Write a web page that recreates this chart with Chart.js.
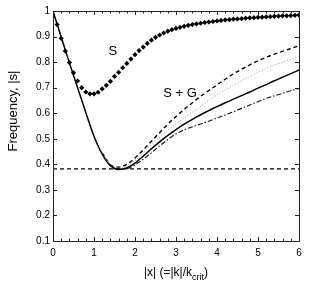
<!DOCTYPE html>
<html>
<head>
<meta charset="utf-8">
<script src="https://cdn.jsdelivr.net/npm/chart.js@4/dist/chart.umd.min.js"></script>
<style>
  html, body { margin: 0; padding: 0; background: #fff; }
  #wrap { width: 319px; height: 291px; }
</style>
</head>
<body>
<div id="wrap"><canvas id="chart" width="319" height="291"></canvas></div>
<script>
// S curve (diamonds), sampled every 0.1 in |x|
const S_X = [0, 0.1, 0.2, 0.3, 0.4, 0.5, 0.6, 0.7, 0.8, 0.9, 1.0, 1.1, 1.2, 1.3, 1.4, 1.5, 1.6, 1.7, 1.8, 1.9,
    2.0, 2.1, 2.2, 2.3, 2.4, 2.5, 2.6, 2.7, 2.8, 2.9, 3.0, 3.1, 3.2, 3.3, 3.4, 3.5, 3.6, 3.7, 3.8, 3.9,
    4.0, 4.1, 4.2, 4.3, 4.4, 4.5, 4.6, 4.7, 4.8, 4.9, 5.0, 5.1, 5.2, 5.3, 5.4, 5.5, 5.6, 5.7, 5.8, 5.9, 6.0];
const S_Y = [1.0, 0.947, 0.893, 0.843, 0.798, 0.758, 0.726, 0.700, 0.683, 0.676, 0.676, 0.682, 0.695, 0.709, 0.725, 0.744, 0.760, 0.778, 0.795, 0.812,
    0.829, 0.845, 0.859, 0.873, 0.886, 0.897, 0.906, 0.914, 0.921, 0.927, 0.932, 0.936, 0.940, 0.944, 0.947, 0.950, 0.952, 0.955, 0.957, 0.959,
    0.961, 0.963, 0.965, 0.966, 0.968, 0.969, 0.970, 0.972, 0.973, 0.974, 0.975, 0.976, 0.977, 0.978, 0.979, 0.980, 0.981, 0.981, 0.982, 0.983, 0.984];

// S + G curves, sampled every 0.2 in |x|
const SG_X = [0, 0.2, 0.4, 0.6, 0.8, 1.0, 1.2, 1.4, 1.6, 1.8, 2.0, 2.2, 2.4, 2.6, 2.8, 3.0,
    3.2, 3.4, 3.6, 3.8, 4.0, 4.2, 4.4, 4.6, 4.8, 5.0, 5.2, 5.4, 5.6, 5.8, 6.0];
const SG_SOLID = [1.0, 0.898, 0.797, 0.70, 0.603, 0.51, 0.44, 0.395, 0.38, 0.386, 0.405, 0.432, 0.461, 0.488, 0.513, 0.536,
    0.557, 0.576, 0.594, 0.61, 0.626, 0.641, 0.655, 0.669, 0.683, 0.698, 0.712, 0.727, 0.741, 0.755, 0.769];
const SG_DASHED = [null, null, null, null, null, null, 0.445, 0.398, 0.389, 0.40, 0.425, 0.456, 0.49, 0.524, 0.557, 0.587,
    0.615, 0.641, 0.666, 0.689, 0.711, 0.733, 0.754, 0.772, 0.789, 0.805, 0.819, 0.831, 0.842, 0.853, 0.864];
const SG_DOTTED = [null, null, null, null, null, null, 0.443, 0.397, 0.385, 0.394, 0.416, 0.446, 0.477, 0.506, 0.533, 0.558,
    0.582, 0.604, 0.626, 0.649, 0.671, 0.691, 0.71, 0.727, 0.743, 0.76, 0.776, 0.789, 0.80, 0.812, 0.824];
const SG_DASHDOT = [null, null, null, null, null, null, 0.44, 0.396, 0.382, 0.383, 0.398, 0.42, 0.445, 0.472, 0.497, 0.519,
    0.535, 0.547, 0.558, 0.569, 0.581, 0.593, 0.606, 0.619, 0.632, 0.645, 0.658, 0.668, 0.678, 0.688, 0.697];

// horizontal reference level
const LEVEL_X = [0, 6];
const LEVEL_Y = [0.382, 0.382];

const X_TICKS = [0, 1, 2, 3, 4, 5, 6];
const X_MINOR = [0.2, 0.4, 0.6, 0.8, 1.2, 1.4, 1.6, 1.8, 2.2, 2.4, 2.6, 2.8, 3.2, 3.4, 3.6, 3.8,
    4.2, 4.4, 4.6, 4.8, 5.2, 5.4, 5.6, 5.8];
const Y_TICKS = [0.1, 0.2, 0.3, 0.4, 0.5, 0.6, 0.7, 0.8, 0.9, 1];

const pts = (xs, ys) => xs.map((x, i) => ({ x, y: ys[i] })).filter(p => p.y !== null);

const FONT = '"Liberation Sans", Arial, sans-serif';

// box, inward ticks, labels and axis titles (matlab look)
const frame = {
    id: 'frame',
    afterDraw(chart) {
        const { ctx, chartArea: a, scales: { x, y } } = chart;
        ctx.save();
        ctx.strokeStyle = '#222';
        ctx.lineWidth = 1;
        ctx.strokeRect(Math.round(a.left) + 0.5, Math.round(a.top) + 0.5,
            Math.round(a.right - a.left), Math.round(a.bottom - a.top));

        ctx.beginPath();
        const xt = (v, len) => {
            const px = Math.round(x.getPixelForValue(v)) + 0.5;
            ctx.moveTo(px, a.bottom); ctx.lineTo(px, a.bottom - len);
            ctx.moveTo(px, a.top); ctx.lineTo(px, a.top + len);
        };
        X_TICKS.forEach(v => xt(v, 4));
        X_MINOR.forEach(v => xt(v, 2.5));
        Y_TICKS.forEach(v => {
            const py = Math.round(y.getPixelForValue(v)) + 0.5;
            ctx.moveTo(a.left, py); ctx.lineTo(a.left + 4, py);
            ctx.moveTo(a.right, py); ctx.lineTo(a.right - 4, py);
        });
        ctx.stroke();

        ctx.fillStyle = '#000';
        ctx.font = '13px ' + FONT;
        ctx.textAlign = 'center';
        ctx.textBaseline = 'middle';
        ctx.fillText('S', x.getPixelForValue(1.46), y.getPixelForValue(0.84));
        ctx.fillText('S + G', x.getPixelForValue(3.1), y.getPixelForValue(0.678));

        // x title with subscript
        ctx.font = '12px ' + FONT;
        const t1 = '|x| (=|k|/k', t2 = 'crit', t3 = ')';
        ctx.textAlign = 'left';
        const w1 = ctx.measureText(t1).width;
        ctx.font = '9px ' + FONT;
        const w2 = ctx.measureText(t2).width;
        ctx.font = '12px ' + FONT;
        const w3 = ctx.measureText(t3).width;
        let sx = (a.left + a.right) / 2 - (w1 + w2 + w3) / 2;
        const ty = 273;
        ctx.fillText(t1, sx, ty);
        ctx.font = '9px ' + FONT;
        ctx.fillText(t2, sx + w1, ty + 5);
        ctx.font = '12px ' + FONT;
        ctx.fillText(t3, sx + w1 + w2, ty);

        // y title
        ctx.translate(13, 111);
        ctx.rotate(-Math.PI / 2);
        ctx.textAlign = 'center';
        ctx.font = '13px ' + FONT;
        ctx.fillText('Frequency, |s|', 0, 0);
        ctx.restore();
    }
};

new Chart(document.getElementById('chart'), {
    type: 'scatter',
    data: {
        datasets: [
            {
                label: 'level',
                data: pts(LEVEL_X, LEVEL_Y),
                showLine: true,
                borderColor: '#000',
                borderWidth: 1.3,
                borderDash: [4, 3],
                pointRadius: 0
            },
            {
                label: 'S+G dash-dot',
                data: pts(SG_X, SG_DASHDOT),
                showLine: true,
                borderColor: '#111',
                borderWidth: 1.1,
                borderDash: [5, 2, 1.5, 2],
                pointRadius: 0,
                cubicInterpolationMode: 'monotone'
            },
            {
                label: 'S+G dotted',
                data: pts(SG_X, SG_DOTTED),
                showLine: true,
                borderColor: '#999',
                borderWidth: 1,
                borderDash: [1, 2],
                pointRadius: 0,
                cubicInterpolationMode: 'monotone'
            },
            {
                label: 'S+G dashed',
                data: pts(SG_X, SG_DASHED),
                showLine: true,
                borderColor: '#000',
                borderWidth: 1.4,
                borderDash: [4, 3],
                pointRadius: 0,
                cubicInterpolationMode: 'monotone'
            },
            {
                label: 'S+G',
                data: pts(SG_X, SG_SOLID),
                showLine: true,
                borderColor: '#000',
                borderWidth: 1.5,
                pointRadius: 0,
                cubicInterpolationMode: 'monotone'
            },
            {
                label: 'S',
                data: pts(S_X, S_Y),
                showLine: false,
                pointStyle: 'rectRot',
                pointRadius: 2.6,
                pointBackgroundColor: '#000',
                pointBorderColor: '#000',
                pointBorderWidth: 0
            }
        ]
    },
    options: {
        responsive: false,
        animation: false,
        layout: { padding: { top: 11, right: 20, left: 0, bottom: 0 } },
        plugins: {
            legend: { display: false },
            tooltip: { enabled: false }
        },
        scales: {
            x: {
                type: 'linear',
                min: 0,
                max: 6,
                afterFit: s => { s.height = 50; },
                afterBuildTicks: s => { s.ticks = X_TICKS.map(v => ({ value: v })); },
                grid: { display: false, drawTicks: false },
                border: { display: false },
                ticks: {
                    padding: 6,
                    color: '#000',
                    font: { family: FONT, size: 10 },
                    maxRotation: 0
                }
            },
            y: {
                min: 0.1,
                max: 1,
                afterFit: s => { s.width = 53; },
                afterBuildTicks: s => { s.ticks = Y_TICKS.map(v => ({ value: v })); },
                grid: { display: false, drawTicks: false },
                border: { display: false },
                ticks: {
                    padding: 3,
                    color: '#000',
                    font: { family: FONT, size: 10 },
                    callback: v => (v === 1 ? '1' : v.toFixed(1))
                }
            }
        }
    },
    plugins: [frame]
});
</script>
</body>
</html>
